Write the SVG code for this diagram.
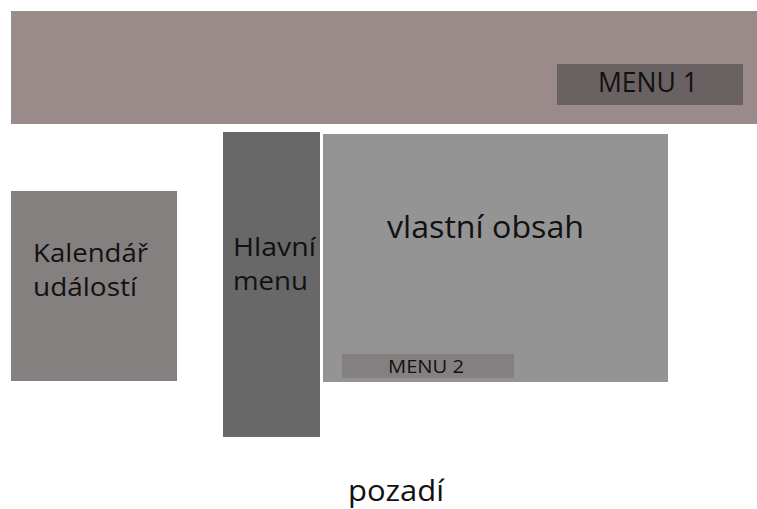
<svg xmlns="http://www.w3.org/2000/svg" width="757" height="509" viewBox="0 0 757 509">
<style>
text{font-family:"Open Sans","Noto Sans","DejaVu Sans",sans-serif;fill:#111;}
</style>
<rect width="757" height="509" fill="#ffffff"/>
<g id="header">
<rect x="11" y="11" width="746" height="113" fill="#9a8a8a"/>
</g>
<g id="menu1">
<rect x="557" y="64" width="186" height="41" fill="#6a6262"/>
<text x="598" y="92" font-size="27" textLength="100" lengthAdjust="spacingAndGlyphs">MENU 1</text>
</g>
<g id="kalendar">
<rect x="11" y="191" width="166" height="190" fill="#858080"/>
<text x="33" y="262" font-size="25" textLength="115" lengthAdjust="spacingAndGlyphs">Kalendář</text>
<text x="33" y="296" font-size="25" textLength="104" lengthAdjust="spacingAndGlyphs">událostí</text>
</g>
<g id="hlavni-menu">
<rect x="223" y="132" width="97" height="305" fill="#686868"/>
<text x="233" y="256" font-size="25" textLength="83" lengthAdjust="spacingAndGlyphs">Hlavní</text>
<text x="233" y="290" font-size="25" textLength="75" lengthAdjust="spacingAndGlyphs">menu</text>
</g>
<g id="obsah">
<rect x="323" y="134" width="345" height="248" fill="#959494"/>
<text x="387" y="238" font-size="31" textLength="197" lengthAdjust="spacingAndGlyphs">vlastní obsah</text>
</g>
<g id="menu2">
<rect x="342" y="354" width="172" height="24" fill="#858080"/>
<text x="388" y="373" font-size="19" textLength="76" lengthAdjust="spacingAndGlyphs">MENU 2</text>
</g>
<g id="pozadi">
<text x="348" y="501" font-size="29" textLength="96" lengthAdjust="spacingAndGlyphs">pozadí</text>
</g>
<g id="connectors"></g>
</svg>
